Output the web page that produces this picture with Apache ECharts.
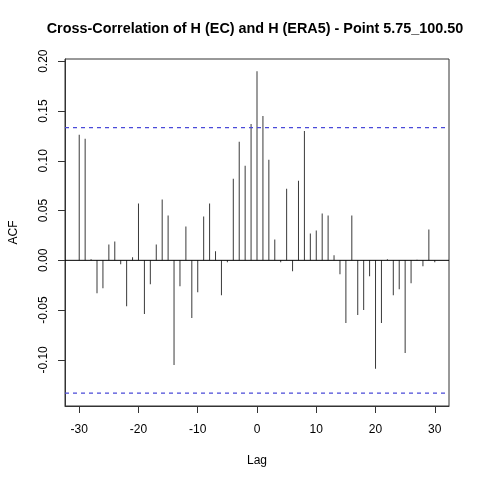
<!DOCTYPE html>
<html>
<head>
<meta charset="utf-8">
<script src="https://cdn.jsdelivr.net/npm/echarts@6/dist/echarts.min.js"></script>
<style>
  html, body { margin: 0; padding: 0; background: #fff; }
  #myChart1 { width: 480px; height: 480px; }
</style>
</head>
<body>
<div id="myChart1"></div>
<script>
// lags and cross-correlation values
var lags = [-30, -29, -28, -27, -26, -25, -24, -23, -22, -21,
            -20, -19, -18, -17, -16, -15, -14, -13, -12, -11,
            -10, -9, -8, -7, -6, -5, -4, -3, -2, -1,
            0, 1, 2, 3, 4, 5, 6, 7, 8, 9,
            10, 11, 12, 13, 14, 15, 16, 17, 18, 19,
            20, 21, 22, 23, 24, 25, 26, 27, 28, 29, 30];
var acfValues = [0.126, 0.122, 0.001, -0.033, -0.028, 0.016, 0.019, -0.004, -0.046, 0.003,
                 0.057, -0.054, -0.024, 0.016, 0.061, 0.045, -0.105, -0.026, 0.034, -0.058,
                 -0.032, 0.044, 0.057, 0.009, -0.035, -0.002, 0.082, 0.119, 0.095, 0.137,
                 0.190, 0.145, 0.101, 0.021, -0.002, 0.072, -0.011, 0.080, 0.130, 0.027,
                 0.030, 0.047, 0.045, 0.005, -0.014, -0.063, 0.045, -0.055, -0.050, -0.016,
                 -0.109, -0.063, 0.001, -0.035, -0.029, -0.093, -0.023, 0.0005, -0.006, 0.031, -0.002];
var confBound = 0.1333;
var xTicks = [-30, -20, -10, 0, 10, 20, 30];
var yTicks = [-0.10, -0.05, 0, 0.05, 0.10, 0.15, 0.20];

var fontName = 'Liberation Sans';
var xMin = -32.4, xMax = 32.4;

var barData = [];
for (var i = 0; i < lags.length; i++) {
    barData.push([lags[i], acfValues[i]]);
}

function hLine(name, y, color, type, width) {
    return {
        name: name,
        type: 'line',
        symbol: 'none',
        silent: true,
        z: 3,
        lineStyle: { color: color, type: type, width: width },
        data: [[xMin, y], [xMax, y]]
    };
}

var option = {
    animation: false,
    title: {
        text: 'Cross-Correlation of H (EC) and H (ERA5) - Point 5.75_100.50',
        left: 250,
        top: 17,
        textAlign: 'center',
        textStyle: {
            fontFamily: fontName,
            fontWeight: 'bold',
            fontSize: 14.4,
            color: '#000'
        }
    },
    grid: {
        left: 59,
        top: 59,
        right: 31,
        bottom: 74,
        show: true,
        borderColor: '#333',
        borderWidth: 1,
        backgroundColor: 'transparent'
    },
    xAxis: {
        type: 'value',
        min: xMin,
        max: xMax,
        name: 'Lag',
        nameLocation: 'middle',
        nameGap: 49,
        nameTextStyle: { fontFamily: fontName, fontSize: 12, color: '#000' },
        axisLine: { show: true, onZero: false, lineStyle: { color: '#333', width: 1 } },
        axisTick: { show: true, length: 7, customValues: xTicks, lineStyle: { color: '#333' } },
        axisLabel: {
            customValues: xTicks,
            margin: 18,
            fontFamily: fontName,
            fontSize: 12,
            color: '#000'
        },
        splitLine: { show: false }
    },
    yAxis: {
        type: 'value',
        min: -0.1463,
        max: 0.2022,
        name: 'ACF',
        nameLocation: 'middle',
        nameGap: 45,
        nameRotate: 90,
        nameTextStyle: { fontFamily: fontName, fontSize: 12, color: '#000' },
        axisLine: { show: true, onZero: false, lineStyle: { color: '#333', width: 1 } },
        axisTick: { show: true, length: 7, customValues: yTicks, lineStyle: { color: '#333' } },
        axisLabel: {
            customValues: yTicks,
            rotate: 90,
            margin: 15,
            fontFamily: fontName,
            fontSize: 12,
            color: '#000',
            formatter: function (v) { return v.toFixed(2); }
        },
        splitLine: { show: false }
    },
    series: [
        {
            name: 'ACF',
            type: 'bar',
            barWidth: 1,
            itemStyle: { color: '#3a3a3a' },
            data: barData
        },
        hLine('zero', 0, '#000', 'solid', 1),
        hLine('upper', confBound, '#4a4ad8', [4, 4], 1.3),
        hLine('lower', -confBound, '#4a4ad8', [4, 4], 1.3)
    ]
};

function viewChart() {
    var myChart1 = echarts.init(document.getElementById('myChart1'));
    myChart1.setOption(option);
    window.onresize = myChart1.resize;
}
viewChart();
</script>
</body>
</html>
